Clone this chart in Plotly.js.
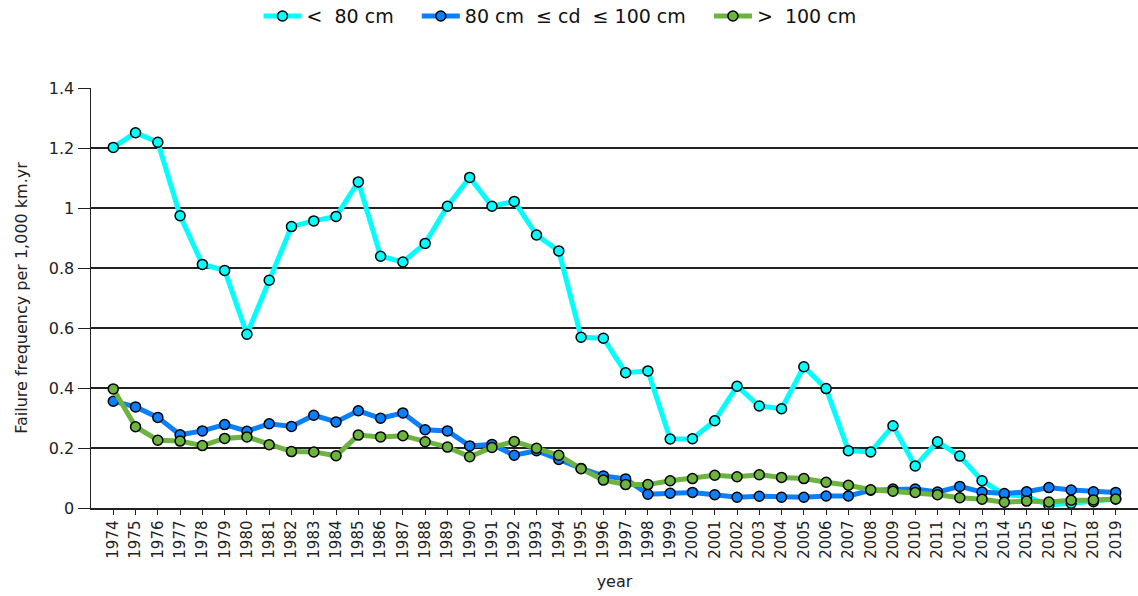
<!DOCTYPE html>
<html>
<head>
<meta charset="utf-8">
<script src="https://cdn.plot.ly/plotly-3.0.1.min.js"></script>
<style>
  html, body { margin: 0; padding: 0; background: #fff; }
  #chart { width: 1138px; height: 596px; }
</style>
</head>
<body>
<div id="chart"></div>
<script>
// failure frequency per 1,000 km.yr
var years = [1974,1975,1976,1977,1978,1979,1980,1981,1982,1983,1984,1985,1986,1987,1988,1989,
             1990,1991,1992,1993,1994,1995,1996,1997,1998,1999,2000,2001,2002,2003,2004,2005,
             2006,2007,2008,2009,2010,2011,2012,2013,2014,2015,2016,2017,2018,2019];

var small = [1.202,1.251,1.219,0.974,0.812,0.792,0.579,0.759,0.938,0.957,0.972,1.087,0.839,0.820,0.882,1.006,
             1.102,1.006,1.022,0.910,0.857,0.569,0.566,0.451,0.457,0.230,0.231,0.291,0.406,0.340,0.331,0.471,
             0.398,0.191,0.187,0.274,0.140,0.221,0.173,0.091,0.045,0.038,0.010,0.016,0.021,0.030];

var medium = [0.356,0.337,0.302,0.244,0.257,0.278,0.256,0.281,0.272,0.309,0.287,0.324,0.299,0.317,0.261,0.257,
              0.207,0.212,0.176,0.191,0.162,0.132,0.107,0.097,0.046,0.049,0.052,0.044,0.036,0.039,0.036,0.036,
              0.040,0.040,0.059,0.063,0.063,0.053,0.072,0.053,0.048,0.054,0.068,0.060,0.054,0.052];

var large = [0.397,0.271,0.226,0.223,0.208,0.232,0.237,0.211,0.188,0.187,0.174,0.243,0.237,0.241,0.221,0.203,
             0.171,0.202,0.222,0.199,0.176,0.131,0.093,0.078,0.078,0.091,0.098,0.109,0.104,0.111,0.102,0.098,
             0.086,0.076,0.061,0.056,0.052,0.044,0.034,0.029,0.019,0.023,0.020,0.026,0.027,0.030];

var names = ['<\u00a0 80 cm', '80 cm\u00a0 \u2264 cd\u00a0 \u2264 100 cm', '>\u00a0 100 cm'];
var colors = ['#00ffff', '#0a80ff', '#6db33f'];

// pad legend entries so they sit apart like in the original
var gap = '\u00a0\u00a0\u00a0';

function series(y, i) {
    return {
        x: years,
        y: y,
        name: names[i] + gap,
        type: 'scatter',
        mode: 'lines+markers',
        line: {color: colors[i], width: 5},
        marker: {size: 10, color: colors[i], line: {color: '#000', width: 1.5}},
        hoverinfo: 'skip'
    };
}

var data = [series(small, 0), series(medium, 1), series(large, 2)];

var layout = {
    width: 1138,
    height: 596,
    paper_bgcolor: '#fff',
    plot_bgcolor: '#fff',
    font: {family: '"DejaVu Sans", Verdana, sans-serif', size: 16, color: '#222'},
    margin: {l: 91, r: 0, t: 88, b: 88, pad: 0},
    showlegend: true,
    hovermode: false,
    legend: {
        orientation: 'h',
        xref: 'container', yref: 'container',
        x: 0.5, xanchor: 'center',
        y: 0.973, yanchor: 'middle',
        font: {size: 19, color: '#111'},
        itemwidth: 38,
        tracegroupgap: 0
    },
    xaxis: {
        range: [1973, 2020],
        tickmode: 'array',
        tickvals: years,
        ticktext: years.map(String),
        tickangle: -90,
        tickfont: {size: 15, color: '#222'},
        ticks: 'outside',
        ticklen: 5,
        tickcolor: '#222',
        showgrid: false,
        zeroline: false,
        showline: true,
        linecolor: '#222',
        linewidth: 1.5,
        title: {text: 'year', font: {size: 16, color: '#222'}, standoff: 18}
    },
    yaxis: {
        range: [0, 1.4],
        dtick: 0.2,
        tickfont: {size: 16, color: '#222'},
        ticks: 'outside',
        ticklen: 12,
        tickcolor: '#222',
        showgrid: true,
        gridcolor: '#222',
        gridwidth: 1.5,
        zeroline: false,
        showline: true,
        linecolor: '#222',
        linewidth: 1.5,
        title: {text: 'Failure frequency per 1,000 km.yr', font: {size: 16, color: '#222'}, standoff: 17}
    }
};

Plotly.newPlot('chart', data, layout, {displayModeBar: false, staticPlot: true});
</script>
</body>
</html>
